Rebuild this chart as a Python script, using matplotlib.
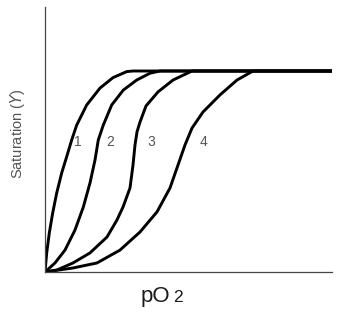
import matplotlib
matplotlib.use("Agg")
import matplotlib.pyplot as plt

plt.rcParams['font.family'] = ['Liberation Sans', 'DejaVu Sans']

# curves: pO2 (arbitrary units) vs saturation (plateau = 1)
pO2_1 = [0, 1.7, 4.3, 7.7, 11.7, 16.7, 21.7, 26.7, 31.7, 41.7, 55, 68, 81.7, 88, 287]
sat_1 = [0, 0.095, 0.194, 0.294, 0.393, 0.493, 0.574, 0.657, 0.731, 0.831, 0.915, 0.967, 0.997, 1.0, 1.0]

pO2_2 = [0, 10, 20, 30, 38.3, 45, 50, 53.3, 58.3, 66.7, 78.3, 91.7, 105, 115, 287]
sat_2 = [0, 0.045, 0.109, 0.209, 0.323, 0.443, 0.557, 0.657, 0.731, 0.831, 0.905, 0.955, 0.989, 1.0, 1.0]

pO2_3 = [0, 12, 28, 45, 62, 72, 78, 85, 88, 90, 92, 95, 101, 113, 128, 147, 287]
sat_3 = [0, 0.01, 0.045, 0.095, 0.174, 0.259, 0.323, 0.418, 0.532, 0.632, 0.697, 0.746, 0.826,
         0.896, 0.955, 1.0, 1.0]

pO2_4 = [0, 28, 52, 75, 95, 112, 125, 133, 140, 147, 158, 175, 192, 208, 287]
sat_4 = [0, 0.02, 0.045, 0.109, 0.199, 0.299, 0.418, 0.532, 0.632, 0.716, 0.796, 0.881, 0.955, 1.0, 1.0]

curve_labels = ['1', '2', '3', '4']
label_x = [33, 65, 106.5, 158]
label_y = [0.648, 0.648, 0.648, 0.648]

fig = plt.figure(figsize=(3.37, 3.12), dpi=100)
ax = fig.add_axes([45 / 337, 40 / 312, 287 / 337, 265 / 312])

for xs, ys in [(pO2_1, sat_1), (pO2_2, sat_2), (pO2_3, sat_3), (pO2_4, sat_4)]:
    ax.plot(xs, ys, color='black', lw=2.1, solid_capstyle='round', solid_joinstyle='round')

for lab, lx, ly in zip(curve_labels, label_x, label_y):
    ax.text(lx, ly, lab, color='#555555', fontsize=10, ha='center', va='center')

ax.set_xlim(0, 287)
ax.set_ylim(0, 265 / 201)
ax.set_xticks([])
ax.set_yticks([])
for side in ['top', 'right']:
    ax.spines[side].set_visible(False)
for side in ['left', 'bottom']:
    ax.spines[side].set_color('#444444')
    ax.spines[side].set_linewidth(0.9)

# axis titles
fig.text(17.5 / 337, 1 - 133.5 / 312, 'Saturation ($\\mathit{Y}$)', rotation=90,
         ha='center', va='center', fontsize=10.5, color='#555555')
fig.text(141 / 337, 1 - 302 / 312, 'pO', ha='left', va='baseline', fontsize=16, color='#1a1a1a')
fig.text(173.5 / 337, 1 - 302 / 312, '2', ha='left', va='baseline', fontsize=12.5, color='#1a1a1a')

fig.savefig('out.png', dpi=100)
